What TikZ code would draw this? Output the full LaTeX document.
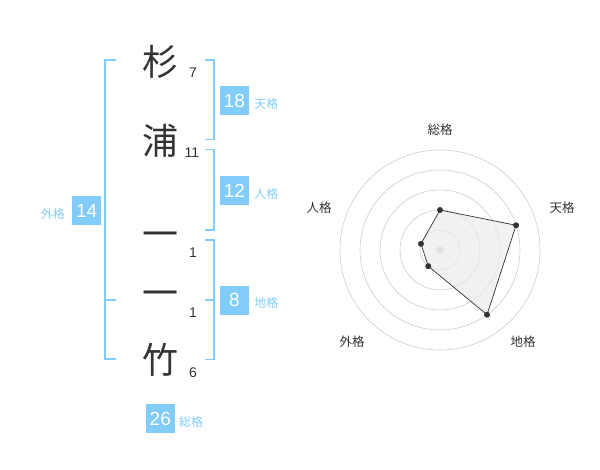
\documentclass[tikz,border=0pt]{standalone}
\usepackage{fontspec}
\setmainfont{Liberation Sans}
\newfontfamily\cjk{Noto Sans CJK JP}
\usetikzlibrary{positioning}
\definecolor{kakublue}{HTML}{82CCFA}
\definecolor{inkgray}{HTML}{333333}

\begin{document}
\begin{tikzpicture}[x=1pt, y=-1pt,
                    every node/.style={inner sep=0pt},
                    kanji/.style={font=\cjk\fontsize{36}{36}\selectfont, text=inkgray},
                    strokes/.style={font=\fontsize{14}{14}\selectfont, text=inkgray},
                    numbox/.style={fill=kakublue, text=white, minimum size=29pt, font=\fontsize{19}{19}\selectfont},
                    kakulabel/.style={font=\cjk\fontsize{12}{12}\selectfont, text=kakublue},
                    bracket/.style={draw=kakublue, line width=1.6pt},
                    ring/.style={draw=black!20, line width=0.6pt},
                    radarlabel/.style={font=\cjk\fontsize{12.5}{12.5}\selectfont, text=inkgray}]
    \useasboundingbox (0,0) rectangle (600,470);

    % Define name characters
    \node[kanji] (k1) at (160,62) {杉}; % surname
    \node[kanji] (k2) at (160,141) {浦};
    \node[kanji] (k3) at (160,240) {一}; % given name
    \node[kanji] (k4) at (160,299) {一};
    \node[kanji] (k5) at (160,360) {竹};

    % Stroke counts
    \node[strokes] (s1) at (193,73) {7};
    \node[strokes] (s2) at (192,153) {11};
    \node[strokes] (s3) at (193,253) {1};
    \node[strokes] (s4) at (193,313) {1};
    \node[strokes] (s5) at (193,373) {6};

    % Brackets
    \draw[bracket] (116,60) -- (105,60) -- (105,359) -- (116,359); % gaikaku
    \draw[bracket] (105,300) -- (116,300);
    \draw[bracket] (205,60) -- (214,60) -- (214,139.5) -- (205,139.5); % tenkaku
    \draw[bracket] (205,149.5) -- (214,149.5) -- (214,230) -- (205,230); % jinkaku
    \draw[bracket] (205,240) -- (214,240) -- (214,359.5) -- (205,359.5); % chikaku
    \draw[bracket] (205,300) -- (214,300);

    % Boxes and labels
    \node[numbox] (ten) at (234.5,100.5) {18};
    \node[kakulabel, right=5pt of ten, yshift=-3pt] (tenl) {天格};
    \node[numbox] (jin) at (234.5,190.5) {12};
    \node[kakulabel, right=5pt of jin, yshift=-3pt] (jinl) {人格};
    \node[numbox] (chi) at (234.5,300.3) {8};
    \node[kakulabel, right=5pt of chi, yshift=-3pt] (chil) {地格};
    \node[numbox] (gai) at (86.7,210.5) {14};
    \node[kakulabel, left=7pt of gai, yshift=-3pt] (gail) {外格};
    \node[numbox] (sou) at (160.3,418.7) {26};
    \node[kakulabel, right=4pt of sou, yshift=-3pt] (soul) {総格};

    % Radar chart
    \begin{scope}[shift={(440,250)}, y=1pt]
        \foreach \r in {20,40,...,100}
            \draw[ring] (0,0) circle (\r pt);
        \fill[black!20] (0,0) circle (3.5pt);

        \coordinate (rsou) at (90:40pt);
        \coordinate (rten) at (18:80pt);
        \coordinate (rchi) at (-54:80pt);
        \coordinate (rgai) at (234:20pt);
        \coordinate (rjin) at (162:20pt);

        \fill[black!8, fill opacity=0.7] (rsou) -- (rten) -- (rchi) -- (rgai) -- (rjin) -- cycle;
        \draw[inkgray, line width=0.7pt] (rsou) -- (rten) -- (rchi) -- (rgai) -- (rjin) -- cycle;
        \foreach \p in {rsou,rten,rchi,rgai,rjin}
            \fill[inkgray] (\p) circle (3pt);

        \node[radarlabel] (lsou) at (0,120) {総格};
        \node[radarlabel] (lten) at (122,42) {天格};
        \node[radarlabel] (lchi) at (83,-92) {地格};
        \node[radarlabel] (lgai) at (-88,-92) {外格};
        \node[radarlabel] (ljin) at (-121,42) {人格};
    \end{scope}
\end{tikzpicture}
\end{document}
